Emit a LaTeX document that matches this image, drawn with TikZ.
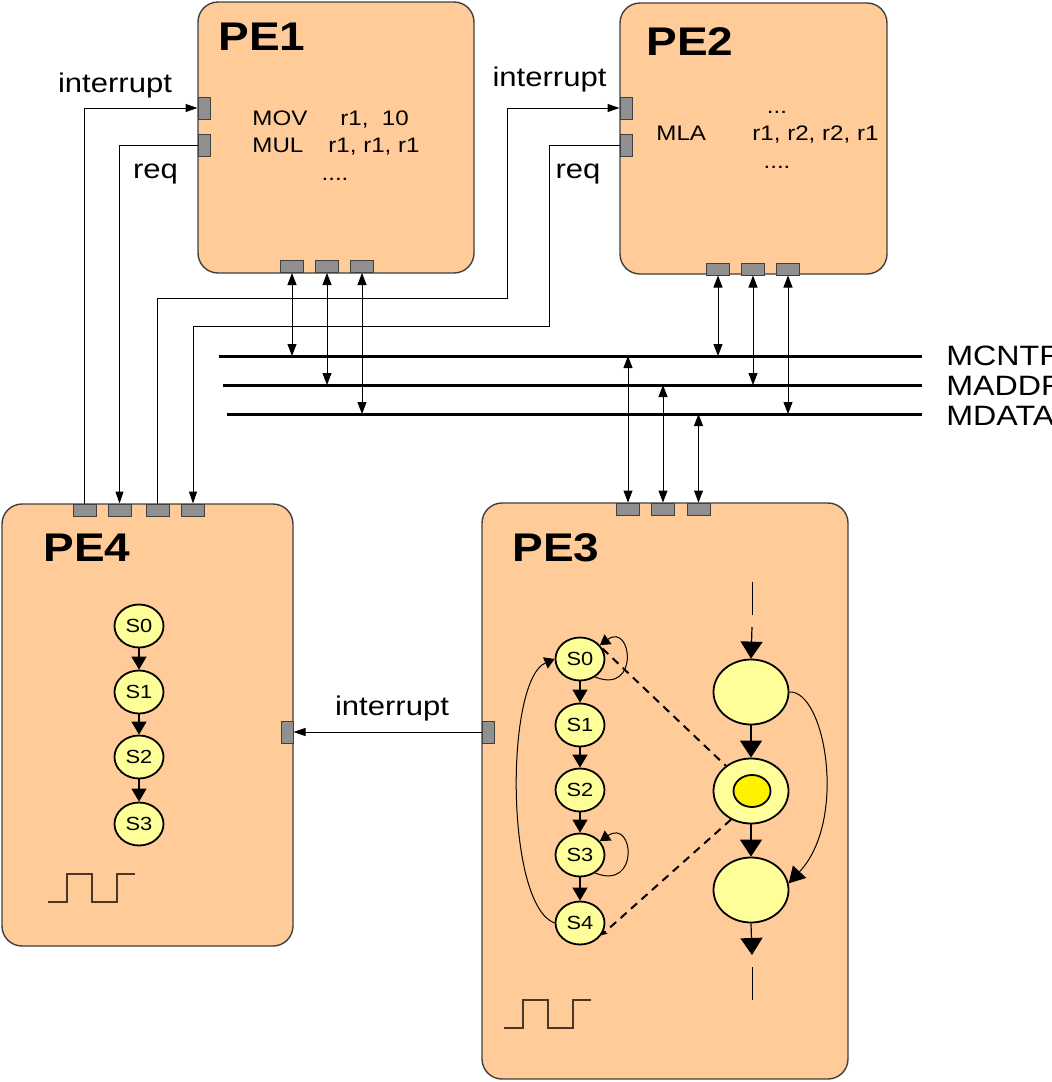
\documentclass[tikz,border=0pt]{standalone}
\usepackage{fontspec}
\setmainfont{Liberation Sans}[FakeStretch=1.15]
\usetikzlibrary{arrows.meta,shapes.geometric}

\definecolor{peach}{RGB}{255,204,153}
\definecolor{boxline}{RGB}{64,64,64}
\definecolor{portgrey}{RGB}{144,144,144}
\definecolor{stateyellow}{RGB}{255,255,153}
\definecolor{clockbrown}{RGB}{72,56,40}

\begin{document}
\begin{tikzpicture}[x=0.5pt, y=-0.5pt,
  pebox/.style={draw=boxline, fill=peach, line width=0.7pt, rounded corners=10pt, inner sep=0pt},
  vport/.style={draw=boxline, fill=portgrey, line width=0.5pt, minimum width=6pt, minimum height=11pt, inner sep=0pt},
  hport/.style={draw=boxline, fill=portgrey, line width=0.5pt, minimum width=11.5pt, minimum height=6pt, inner sep=0pt},
  fsmstate/.style={ellipse, draw, fill=stateyellow, line width=0.9pt, minimum width=24.5pt, minimum height=21.5pt, inner sep=0pt, font=\fontsize{9.5}{11}\selectfont},
  bigstate/.style={ellipse, draw, fill=stateyellow, line width=0.9pt, minimum width=37.5pt, minimum height=32.5pt, inner sep=0pt},
  pelabel/.style={font=\fontsize{20}{24}\selectfont\bfseries, anchor=base west, inner sep=0pt},
  sigtext/.style={font=\fontsize{13.5}{16}\selectfont, anchor=base, inner sep=0pt},
  asm/.style={font=\fontsize{10.5}{12}\selectfont, anchor=base west, inner sep=0pt},
  buslabel/.style={font=\fontsize{14}{17}\selectfont, anchor=base west, inner sep=0pt},
  busline/.style={line width=1.5pt},
  wire/.style={line width=0.5pt},
  sigarrow/.style={wire, -{Triangle[length=6pt,width=4pt]}},
  busarrow/.style={wire, {Triangle[length=6pt,width=4.5pt]}-{Triangle[length=6pt,width=4.5pt]}},
  fsmarrow/.style={line width=0.6pt, -{Triangle[length=6.5pt,width=7.5pt]}},
  flowarrow/.style={line width=0.6pt, -{Triangle[length=8.5pt,width=11pt]}},
  loopy/.style={line width=0.5pt, -{Triangle[length=5pt,width=6pt]}},
  dashline/.style={line width=1pt, dash pattern=on 4pt off 3pt},
  clockline/.style={draw=clockbrown, line width=0.6pt},
]
  \useasboundingbox (0,0) rectangle (1051,1082);

  % Clock waveform
  \tikzset{
    clock/.pic={
      \draw[clockline] (0,0) -- (19,0) -- (19,-28) -- (44,-28) -- (44,0)
        -- (69,0) -- (69,-28) -- (87,-28);
    }
  }

  % Processing elements
  \node[pebox, minimum width=138pt, minimum height=135.5pt] (pe1) at (336,137.5) {};
  \node[pebox, minimum width=133.5pt, minimum height=135.5pt] (pe2) at (753.5,138.5) {};
  \node[pebox, minimum width=145.5pt, minimum height=221pt] (pe4) at (147.5,725) {};
  \node[pebox, minimum width=183pt, minimum height=288pt] (pe3) at (665,791) {};

  \node[pelabel] (pe1lbl) at (218,50) {PE1};
  \node[pelabel] (pe2lbl) at (646,55) {PE2};
  \node[pelabel] (pe4lbl) at (43,561) {PE4};
  \node[pelabel] (pe3lbl) at (512,561) {PE3};

  % Ports
  \node[vport] (p1i) at (204,108) {};
  \node[vport] (p1r) at (204,145) {};
  \node[vport] (p2i) at (626,108) {};
  \node[vport] (p2r) at (626,145) {};
  \foreach \n/\x in {a/292,b/327,c/362} {
    \node[hport] (p1\n) at (\x,266.5) {};
  }
  \foreach \n/\x in {a/718,b/753,c/788} {
    \node[hport] (p2\n) at (\x,269) {};
  }
  \foreach \n/\x in {a/84.5,b/119.5,c/157.5,d/193} {
    \node[hport] (p4\n) at (\x,510) {};
  }
  \foreach \n/\x in {a/628,b/663,c/698.5} {
    \node[hport] (p3\n) at (\x,509) {};
  }
  \node[vport] (p4e) at (287,732) {};
  \node[vport] (p3e) at (488,732) {};

  % Program text
  \node[asm] (mov) at (252,125) {MOV};
  \node[asm] (movargs) at (340,125) {r1,\ \ 10};
  \node[asm] (mul) at (252,152) {MUL};
  \node[asm] (mulargs) at (328,152) {r1, r1, r1};
  \node[asm, anchor=base] (dots1) at (335,180) {....};
  \node[asm, anchor=base] (dots2) at (777,113) {...};
  \node[asm] (mla) at (656,140) {MLA};
  \node[asm] (mlaargs) at (752,140) {r1, r2, r2, r1};
  \node[asm, anchor=base] (dots3) at (777,168) {....};

  % Buses
  \coordinate (mcntr) at (219,356);
  \coordinate (maddr) at (223,385);
  \coordinate (mdata) at (227,414);
  \draw[busline] (mcntr) -- (922,356);
  \draw[busline] (maddr) -- (922,385);
  \draw[busline] (mdata) -- (922,414);
  \node[buslabel] (mcntrlbl) at (946,365) {MCNTR};
  \node[buslabel] (maddrlbl) at (946,395) {MADDR};
  \node[buslabel] (mdatalbl) at (946,425) {MDATA};

  \draw[busarrow] (p1a.south) -- (p1a |- mcntr);
  \draw[busarrow] (p1b.south) -- (p1b |- maddr);
  \draw[busarrow] (p1c.south) -- (p1c |- mdata);
  \draw[busarrow] (p2a.south) -- (p2a |- mcntr);
  \draw[busarrow] (p2b.south) -- (p2b |- maddr);
  \draw[busarrow] (p2c.south) -- (p2c |- mdata);
  \draw[busarrow] (p3a.north) -- (p3a |- mcntr);
  \draw[busarrow] (p3b.north) -- (p3b |- maddr);
  \draw[busarrow] (p3c.north) -- (p3c |- mdata);

  % Interrupt and request wires
  \coordinate (bendi) at (507,298);
  \coordinate (bendr) at (549,326);
  \draw[sigarrow] (p4a.north) |- (p1i.west);
  \draw[sigarrow] (p1r.west) -| (p4b.north);
  \draw[sigarrow] (p4c.north) |- (bendi) |- (p2i.west);
  \draw[sigarrow] (p2r.west) -| (bendr) -| (p4d.north);
  \draw[sigarrow] (p3e.west) -- (p4e.east);

  \node[sigtext] (int1) at (115,92) {interrupt};
  \node[sigtext] (req1) at (155.5,178) {req};
  \node[sigtext] (int2) at (549.5,86) {interrupt};
  \node[sigtext] (req2) at (578,178) {req};
  \node[sigtext] (int3) at (392,715) {interrupt};

  % PE4 state machine
  \foreach \i/\y in {0/626,1/692,2/757,3/824} {
    \node[fsmstate] (q\i) at (139,\y) {S\i};
  }
  \foreach \i/\j in {0/1,1/2,2/3} {
    \draw[fsmarrow] (q\i) -- (q\j);
  }
  \pic at (48,902) {clock};

  % PE3 state machine
  \foreach \i/\y in {0/659,1/725,2/790,3/855,4/923} {
    \node[fsmstate] (s\i) at (580,\y) {S\i};
  }
  \foreach \i/\j in {0/1,1/2,2/3,3/4} {
    \draw[fsmarrow] (s\i) -- (s\j);
  }
  \draw[loopy] (s0.-50) .. controls (640,695) and (632,622) .. (s0.35);
  \draw[loopy] (s3.-50) .. controls (640,891) and (634,818) .. (s3.35);
  \draw[loopy] (s4.180) .. controls (505,905) and (505,680) .. (s0.180);

  % PE3 data flow
  \node[bigstate] (c1) at (751,692) {};
  \node[bigstate] (c2) at (751,791) {};
  \node[bigstate] (c3) at (751,890) {};
  \node[ellipse, draw, fill=yellow, line width=0.9pt, minimum width=18.5pt,
    minimum height=16pt, inner sep=0pt] (c2dot) at (752,791) {};

  \coordinate (flowin1) at (752,582);
  \coordinate (flowin2) at (752,615);
  \coordinate (flowin3) at (752,627);
  \coordinate (flowout1) at (752,955);
  \coordinate (flowout2) at (752,967);
  \coordinate (flowout3) at (752,1000);
  \draw[wire] (flowin1) -- (flowin2);
  \draw[flowarrow] (flowin3) -- (c1.north);
  \draw[flowarrow] (c1) -- (c2);
  \draw[flowarrow] (c2) -- (c3);
  \draw[flowarrow] (c3.south) -- (flowout1);
  \draw[wire] (flowout2) -- (flowout3);
  \draw[line width=0.5pt, -{Triangle[length=8pt,width=9pt]}]
    (c1.east) .. controls (825,690) and (848,820) .. (c3.10);

  \draw[dashline] (s0.25) -- (c2.135);
  \draw[dashline, -{Stealth[length=3pt,width=3pt]}] (c2.-125) -- (s4.-30);
  \pic at (504,1028) {clock};

\end{tikzpicture}
\end{document}
